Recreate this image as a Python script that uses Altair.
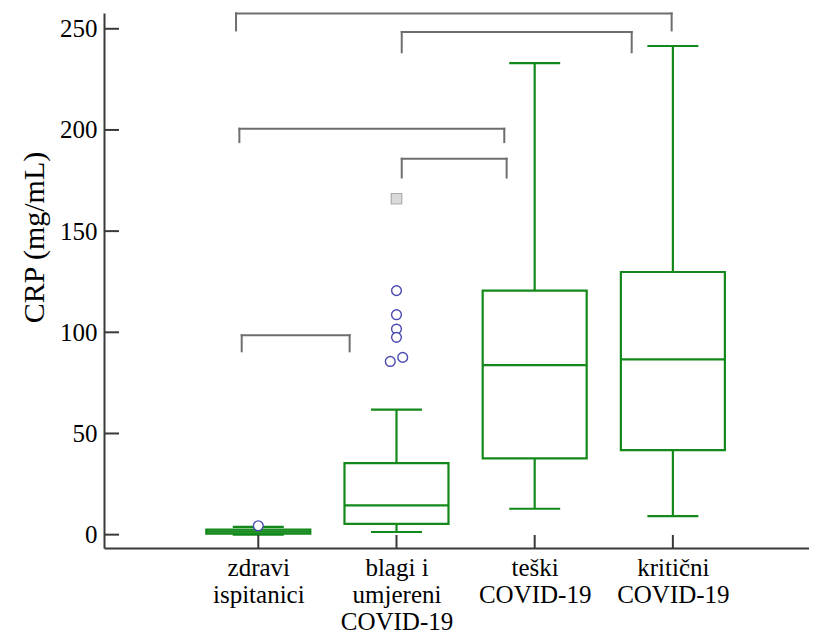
import json
import altair as alt
import pandas as pd

# ---------------- data ----------------
positions = [1, 2, 3, 4]
label_lines = [
    ["zdravi", "ispitanici"],
    ["blagi i", "umjereni", "COVID-19"],
    ["teški", "COVID-19"],
    ["kritični", "COVID-19"],
]
whisker_low = [0.0, 1.3, 12.8, 9.2]
q1 = [0.5, 5.3, 37.7, 41.8]
median = [1.5, 14.5, 83.8, 86.6]
q3 = [2.5, 35.3, 120.6, 129.8]
whisker_high = [3.8, 61.8, 233.0, 241.5]

out_pos = [1, 2, 2, 2, 2, 2, 2]
out_jitter = [0.0, 0.0, 0.0, 0.0, 0.0, -0.045, 0.045]
out_value = [4.4, 120.6, 108.7, 101.6, 97.5, 85.6, 87.6]

far_pos = [2]
far_value = [166.0]

bracket_x1 = [0.839, 2.038, 0.863, 2.038, 0.880]
bracket_x2 = [3.991, 3.702, 2.780, 2.797, 1.661]
bracket_top = [257.6, 248.4, 200.6, 185.8, 98.5]
bracket_bottom = [249.2, 238.4, 194.0, 176.5, 90.6]

y_tick_values = [0, 50, 100, 150, 200, 250]

# ---------------- styles ----------------
GREEN = "#12891a"
AXIS = "#3a3a3a"
BRACKET = "#6e6e6e"
FONT = "Liberation Serif"

xscale = alt.Scale(domain=[-0.1165, 4.985], nice=False, zero=False, padding=0)
yscale = alt.Scale(domain=[-6.6, 257.8], nice=False, zero=False, padding=0)

boxes = pd.DataFrame({
    "pos": positions, "lo": whisker_low, "q1": q1, "med": median,
    "q3": q3, "hi": whisker_high,
})
outs = pd.DataFrame({
    "x": [p + j for p, j in zip(out_pos, out_jitter)], "v": out_value,
})
fars = pd.DataFrame({"x": far_pos, "v": far_value})
brackets = pd.DataFrame({
    "x1": bracket_x1, "x2": bracket_x2, "yt": bracket_top, "yb": bracket_bottom,
})
yticks = pd.DataFrame({"v": y_tick_values})
xticks = pd.DataFrame({"p": positions})

label_expr = ""
for p, lines in zip(positions, label_lines):
    label_expr += f"datum.value == {p} ? {json.dumps(lines)} : "
label_expr += "''"

xaxis = alt.Axis(
    values=positions, labelExpr=label_expr, ticks=False, grid=False,
    title=None, labelFont=FONT, labelFontSize=25, labelColor="black",
    labelLineHeight=27, labelPadding=7, labelFlush=False,
    labelOverlap=False, domainColor=AXIS, domainWidth=2,
)
yaxis = alt.Axis(
    values=y_tick_values, ticks=False, grid=False, tickSize=0,
    labelFont=FONT, labelFontSize=25, labelColor="black",
    labelPadding=7, domainColor=AXIS, domainWidth=2,
    title="CRP (mg/mL)", titleFont=FONT, titleFontSize=30,
    titleFontWeight="normal", titleColor="black", titleX=-61,
    titleY=224, titleAngle=270, titleAlign="center",
    titleBaseline="alphabetic",
)


def X(field):
    return alt.X(field, type="quantitative", scale=xscale, axis=xaxis)


def Y(field):
    return alt.Y(field, type="quantitative", scale=yscale, axis=yaxis)


base_box = alt.Chart(boxes)

lower_whisker = base_box.mark_rule(strokeWidth=2.2, color=GREEN).encode(
    x=X("pos"), y=Y("lo"), y2="q1:Q"
)

upper_whisker = base_box.mark_rule(strokeWidth=2.2, color=GREEN).encode(
    x=X("pos"), y=Y("q3"), y2="hi:Q"
)

box_rect = base_box.mark_bar(
    size=104, fillOpacity=0, stroke=GREEN, strokeWidth=2.2
).encode(x=X("pos"), y=Y("q1"), y2="q3:Q")

median_tick = base_box.mark_tick(
    orient="horizontal", size=104, thickness=2.2, color=GREEN, opacity=1
).encode(x=X("pos"), y=Y("med"))

cap_low = base_box.mark_tick(
    orient="horizontal", size=51, thickness=2.2, color=GREEN, opacity=1
).encode(x=X("pos"), y=Y("lo"))

cap_high = base_box.mark_tick(
    orient="horizontal", size=51, thickness=2.2, color=GREEN, opacity=1
).encode(x=X("pos"), y=Y("hi"))

out_layer = alt.Chart(outs).mark_point(
    shape="circle", size=95, filled=True, fill="white", stroke="#4b4bb0",
    strokeWidth=1.4, opacity=1
).encode(x=X("x"), y=Y("v"))

far_layer = alt.Chart(fars).mark_point(
    shape="square", size=110, filled=True, fill="#dadada", stroke="#ababab",
    strokeWidth=1.2, opacity=1
).encode(x=X("x"), y=Y("v"))

bch = alt.Chart(brackets)
b_h = bch.mark_rule(color=BRACKET, strokeWidth=2, strokeCap="square").encode(
    x=X("x1"), x2="x2:Q", y=Y("yt"))
b_l = bch.mark_rule(color=BRACKET, strokeWidth=2, strokeCap="square").encode(
    x=X("x1"), y=Y("yt"), y2="yb:Q")
b_r = bch.mark_rule(color=BRACKET, strokeWidth=2, strokeCap="square").encode(
    x=X("x2"), y=Y("yt"), y2="yb:Q")

ytick_layer = alt.Chart(yticks).mark_rule(color=AXIS, strokeWidth=2).encode(
    y=Y("v"), x=alt.value(0), x2=alt.value(15))

xtick_layer = alt.Chart(xticks).mark_rule(color=AXIS, strokeWidth=2).encode(
    x=X("p"), y=alt.value(535), y2=alt.value(522))

chart = alt.layer(
    lower_whisker, b_h, b_l, b_r, upper_whisker, box_rect, median_tick,
    cap_low, cap_high, out_layer, far_layer, ytick_layer, xtick_layer,
).properties(
    width=705, height=535,
    autosize=alt.AutoSizeParams(type="none"),
    padding={"left": 96, "top": 5, "right": 0, "bottom": 87},
    background="white",
).configure(
    font=FONT,
).configure_axis(
    labelFont=FONT, titleFont=FONT,
).configure_view(stroke=None)

chart.save("out.html", embed_options={"renderer": "svg", "actions": False})
